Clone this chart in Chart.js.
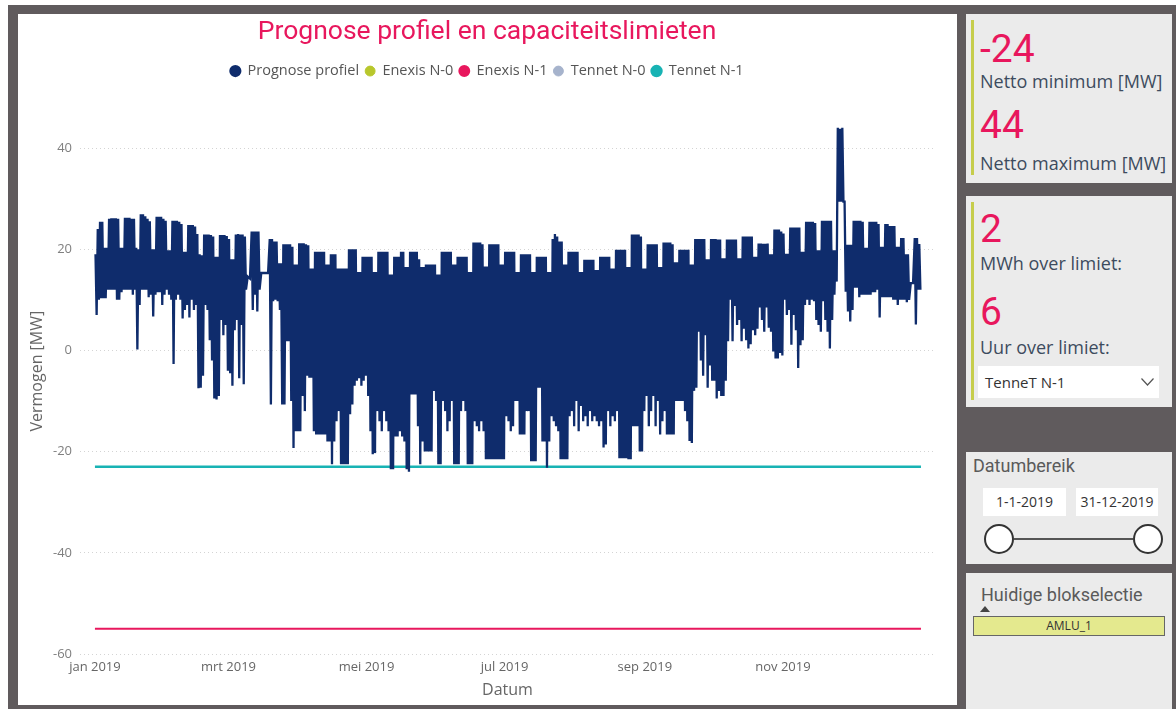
<!DOCTYPE html>
<html>
<head>
<meta charset="utf-8">
<script src="https://cdn.jsdelivr.net/npm/chart.js@4.4.1/dist/chart.umd.min.js"></script>
<style>
html,body{margin:0;padding:0;background:#fff;width:1176px;height:709px;overflow:hidden;font-family:'Open Sans',sans-serif;}
#frame{position:absolute;left:8px;top:5px;width:1168px;height:704px;background:#605b5d;}
#main{position:absolute;left:18px;top:14px;width:939px;height:691px;background:#fff;}
#main canvas{position:absolute;left:0;top:0;}
.panel{position:absolute;left:966px;width:206px;background:#ebebeb;}
.bar{position:absolute;left:5px;width:3px;background:#c6cd4c;}
.big{position:absolute;left:14px;font-family:'Roboto',sans-serif;font-size:39px;line-height:38px;color:#e8175d;}
.lbl{position:absolute;left:14px;font-family:'Open Sans',sans-serif;font-size:18px;line-height:20px;color:#3d4b5e;white-space:nowrap;}
.din{position:absolute;font-family:'Roboto',sans-serif;font-size:18px;line-height:20px;color:#5a5a5a;white-space:nowrap;}
.box{position:absolute;background:#fff;font-family:'Open Sans',sans-serif;font-size:14px;color:#333;text-align:center;}
</style>
</head>
<body>
<div id="frame"></div>
<div id="main"><canvas id="c" width="939" height="691"></canvas></div>

<div class="panel" style="top:14px;height:169px;">
  <div class="bar" style="top:6px;height:155px;"></div>
  <div class="big" style="top:16px;">-24</div>
  <div class="lbl" style="top:57px;">Netto minimum [MW]</div>
  <div class="big" style="top:92px;">44</div>
  <div class="lbl" style="top:139px;">Netto maximum [MW]</div>
</div>

<div class="panel" style="top:196px;height:211px;">
  <div class="bar" style="top:6px;height:198px;"></div>
  <div class="big" style="top:14px;">2</div>
  <div class="lbl" style="top:57px;">MWh over limiet:</div>
  <div class="big" style="top:97px;">6</div>
  <div class="lbl" style="top:141px;">Uur over limiet:</div>
  <div class="box" style="left:12px;top:170px;width:181px;height:32px;text-align:left;">
    <span style="position:absolute;left:7px;top:6px;font-size:15px;color:#333;">TenneT N-1</span>
    <svg style="position:absolute;left:163px;top:12px;" width="13" height="8" viewBox="0 0 13 8"><polyline points="0.5,0.5 6.5,7 12.5,0.5" fill="none" stroke="#555" stroke-width="1.2"/></svg>
  </div>
</div>

<div class="panel" style="top:452px;height:112px;">
  <div class="din" style="left:7px;top:4px;">Datumbereik</div>
  <div class="box" style="left:17px;top:36px;width:83px;height:28px;line-height:28px;">1-1-2019</div>
  <div class="box" style="left:110px;top:36px;width:82px;height:28px;line-height:28px;">31-12-2019</div>
  <svg style="position:absolute;left:0;top:70px;" width="206" height="36">
    <line x1="48" y1="17" x2="167" y2="17" stroke="#555" stroke-width="2"/>
    <circle cx="33" cy="17" r="14" fill="#fff" stroke="#333" stroke-width="2"/>
    <circle cx="182" cy="17" r="14" fill="#fff" stroke="#333" stroke-width="2"/>
  </svg>
</div>

<div class="panel" style="top:573px;height:136px;">
  <div class="din" style="left:15px;top:12px;">Huidige blokselectie</div>
  <svg style="position:absolute;left:14px;top:33px;" width="10" height="6"><polygon points="0,6 5,0 10,6" fill="#444"/></svg>
  <div style="position:absolute;left:7px;top:43px;width:190px;height:18px;background:#e4e98e;border:1px solid #666;font-family:'Open Sans',sans-serif;font-size:12px;line-height:18px;text-align:center;color:#333;">AMLU_1</div>
</div>

<script>
// ---- Data (day index 0 = 1 Jan 2019, rows of 7 days starting Tuesday) ----
const dailyMax = [
  19, 24, 25.4, 25.4, 20.3, 20.3, 26,
  26.1, 26.1, 26.1, 26, 20.3, 20.3, 26.2,
  26.2, 26.2, 26, 26, 20.3, 20, 26.9,
  26.9, 26.5, 26, 25.5, 20, 20, 26.4,
  26.4, 26.4, 26, 25.6, 19.8, 19.8, 25.6,
  25.6, 25.6, 25.4, 25, 19.5, 19.5, 24.8,
  24.8, 24.8, 24.5, 23, 19, 18.8, 22.9,
  22.9, 22.9, 22.8, 22.5, 18.5, 18.5, 22.8,
  22.8, 22.8, 22.6, 22, 18, 18, 22.9,
  23, 22.9, 22.9, 22.5, 14.6, 14.2, 23.5,
  23.5, 23.5, 23.5, 15.3, 15.3, 15.3, 15.3,
  22, 22, 21.5, 21.5, 17.2, 17.2, 21,
  21, 21, 21, 20.5, 17, 17, 21.2,
  21.2, 21.2, 21, 20.8, 16.2, 16.2, 19.5,
  19.5, 19.5, 19.5, 19.5, 17, 17, 19,
  19, 19, 16.2, 16.2, 16.2, 16.2, 16.2,
  20, 20, 20, 20, 15.5, 15.5, 18.5,
  18.5, 18.5, 18.5, 18.5, 15.5, 15.5, 19.5,
  19.5, 19.5, 19.5, 19.5, 15, 15, 18.5,
  18.5, 18.5, 19.5, 19.5, 16.5, 16.5, 19.5,
  19.5, 19.5, 19.5, 18, 16.5, 16.5, 17,
  17, 17, 17, 17, 15, 15, 19.5,
  19.5, 19.5, 19.5, 19.5, 17, 17, 18.5,
  18.5, 18.5, 18.5, 18.5, 15.5, 15.5, 21.3,
  21.3, 21.3, 21.3, 21, 16.6, 16.6, 21,
  21, 21, 21, 21, 17, 17, 19.5,
  19.5, 19.5, 19.5, 19.5, 15.5, 15.5, 19,
  19, 19, 19, 19, 15.5, 15.5, 18.5,
  18.5, 18.5, 18.5, 18.5, 15.5, 15.5, 22,
  23, 22.5, 21.5, 21.5, 17, 17, 19.5,
  19.5, 19.5, 19.5, 19.5, 15.5, 15.5, 17.9,
  17.9, 17.9, 17.9, 17.9, 15.9, 15.9, 18.5,
  18.5, 18.5, 18.5, 18.5, 16.2, 16.2, 19.9,
  19.9, 19.9, 19.9, 19.9, 16.5, 16.5, 22.9,
  22.9, 22.9, 22.9, 22.5, 16.2, 16.2, 21,
  21, 21, 21, 21, 16.5, 16.5, 21.3,
  21.3, 21.3, 21.3, 21, 17.4, 17.4, 19.9,
  19.9, 19.9, 19.9, 19.9, 17, 17, 22,
  22, 22, 22, 22, 18, 18, 22,
  22, 22, 21.9, 21.9, 18.2, 18.2, 21.9,
  21.9, 21.9, 21.9, 21.9, 18.2, 18.2, 22.5,
  22.5, 22.5, 22.5, 22.5, 18.5, 18.5, 21.1,
  21.1, 21.1, 21.1, 21.1, 19, 19, 23.9,
  23.9, 23.9, 23.5, 23.1, 19.1, 19.1, 24.3,
  24.3, 24.3, 24.3, 24.3, 19.5, 19.5, 25.4,
  25.4, 25.4, 25.4, 25.2, 19.8, 19.8, 25.6,
  25.6, 25.6, 25.6, 25.6, 19.8, 19.8, 44,
  43.8, 44, 29.4, 20.9, 20.9, 20.9, 25.6,
  25.6, 25.6, 25.6, 25.4, 20.3, 20.3, 25.4,
  25.4, 25.4, 25.4, 25, 20.5, 20.5, 25,
  25, 24.6, 24.6, 24.6, 20.5, 20.5, 22.2,
  22.2, 19, 19, 13.3, 13.3, 22.2, 22.2,
  21
];
const dailyMin = [
  7, 10, 10.3, 10.3, 10.3, 12, 12,
  12, 12, 10, 10, 11.5, 12, 12,
  12, 12, 11, 12, 0.2, 9, 12,
  12, 12, 10.5, 11, 6.7, 11, 11.5,
  11.5, 9, 11, 12, 11, 10, -2.7,
  10, 11, 10, 6.3, 8, 9, 6.5,
  10, 8, 9, -7.5, -7.4, -5, 9,
  8, 2, -2, -9.5, -9.7, -9, 6,
  3, 5, -4, -4.5, -7, 4, 6,
  -5.5, 5, -6.7, 12, 14.6, 14.2, 8,
  11, 7.7, 12, 15.3, 15.3, 15.3, 15.3,
  -10.7, 9.7, 10, 9.7, 8, -10.7, -10.7,
  1.8, 1.8, -10, -19.3, -16, -16, -16,
  -9, -12, -5, -5.4, -5.4, -16, -16.6,
  -16.6, -16.6, -16.6, -16.6, -18, -18, -22.5,
  -18, -14, -12, -22.5, -22.5, -22.5, -22.5,
  -12.6, -10.7, -7, -6, -5.5, -7, -6,
  -5, -9, -16, -20.5, -20.3, -12, -14,
  -16, -12, -14, -16, -23.5, -23.5, -17,
  -17, -16, -17, -18, -23.5, -24, -8.7,
  -8.7, -8.7, -15, -22.5, -18, -20, -20,
  -20, -20, -8, -10, -22.5, -22.5, -10,
  -12, -16, -14, -10, -22.5, -22.5, -22.5,
  -12, -10, -12, -22.5, -22.5, -22.5, -14,
  -15, -16, -14, -16, -21.5, -21.5, -21.5,
  -21.5, -21.5, -21.5, -21.5, -21.5, -21.5, -13,
  -14, -16, -15, -10, -10, -16.6, -16.6,
  -16.6, -12, -12, -21.9, -21.9, -21.9, -7.4,
  -7.4, -18, -18, -23.2, -18, -13, -14,
  -15, -16, -21.5, -21.5, -21.5, -21.5, -13,
  -12, -15, -10, -16, -11, -14, -13,
  -15, -12, -14, -13, -14, -15, -14,
  -19.2, -18.6, -12, -15, -13, -14, -12,
  -21.3, -21.3, -21.3, -21.3, -21.5, -21.5, -15,
  -15, -15, -20, -20, -12, -9, -15,
  -12, -9, -15, -10, -16.6, -14, -12,
  -16.6, -16.6, -16.6, -16.6, -10, -10, -10,
  -10, -12, -14, -17.9, -18.3, -8, -7.4,
  3.7, -2, -5, 3, -7.4, -3, -6,
  -6, -9.5, -8, -9, -9, -6, 1.8,
  10, 1.8, 8.8, 5, 6, 1.8, 4.3,
  2, 0.4, 1.2, 4, 3, 4.3, 8.5,
  6, 3.7, 8.5, 4.5, 3.7, -0.2, -1.6,
  -1.6, -0.5, -1, 10, 7, 8, 1.1,
  7, 4, -3.5, 1, 2, 9, 10,
  9, 10, 9.7, 6, 5, 3.7, 9.7,
  6, 3.7, 0.4, 6, 11, 13.6, 29.4,
  29.4, 29.4, 11.6, 7.7, 5.7, 8, 12.4,
  12.4, 10.5, 11, 11, 11, 11, 11,
  11.5, 11.5, 12, 6.5, 10.5, 10.5, 10.5,
  10.5, 10.5, 10, 10, 9, 10, 10,
  10, 9.5, 10, 13.3, 13.3, 5.1, 12,
  12
];
const limitDays = [0, 365];
const enexisN1 = [-55, -55];
const tennetN1 = [-23, -23];
const yTicks = [-60, -40, -20, 0, 20, 40];
const monthStarts = [0, 59, 120, 181, 243, 304];
const monthLabels = ['jan 2019', 'mrt 2019', 'mei 2019', 'jul 2019', 'sep 2019', 'nov 2019'];

// ---- build points ----
const profilePoints = [];
dailyMax.forEach((mx, d) => {
  const mn = dailyMin[d];
  if (mx === mn) { profilePoints.push({x: d + 0.5, y: mx}); }
  else { profilePoints.push({x: d + 0.25, y: mx}); profilePoints.push({x: d + 0.75, y: mn}); }
});
const limitPts = arr => limitDays.map((x, i) => ({x, y: arr[i]}));

const NAVY = '#0f2c6c';
const axisFont = "'Open Sans', sans-serif";
const dinFont = "'Roboto', sans-serif";

new Chart(document.getElementById('c'), {
  type: 'line',
  data: {
    datasets: [
      {label: 'Prognose profiel', data: profilePoints, borderColor: NAVY, backgroundColor: NAVY, borderWidth: 2.3, borderJoinStyle: 'miter'},
      {label: 'Enexis N-0', data: [], borderColor: '#b8c72c', backgroundColor: '#b8c72c', borderWidth: 1},
      {label: 'Enexis N-1', data: limitPts(enexisN1), borderColor: '#e8175d', backgroundColor: '#e8175d', borderWidth: 2},
      {label: 'Tennet N-0', data: [], borderColor: '#a6b3cc', backgroundColor: '#a6b3cc', borderWidth: 1},
      {label: 'Tennet N-1', data: limitPts(tennetN1), borderColor: '#18b3b4', backgroundColor: '#18b3b4', borderWidth: 2.5}
    ]
  },
  options: {
    responsive: false,
    animation: false,
    parsing: false,
    normalized: true,
    elements: {point: {radius: 0, hoverRadius: 0}, line: {tension: 0}},
    layout: {padding: {left: 21, right: 22, top: 0, bottom: 0}},
    scales: {
      x: {
        type: 'linear', min: -6.6, max: 371.2,
        afterBuildTicks: s => { s.ticks = monthStarts.map(v => ({value: v})); },
        afterFit: s => { s.height = 51; },
        ticks: {callback: (v, i) => monthLabels[i], color: '#666', font: {size: 13, family: axisFont}, padding: 5, maxRotation: 0, autoSkip: false},
        grid: {display: false, drawTicks: false},
        border: {display: false},
        title: {display: true, text: 'Datum', color: '#666', font: {size: 16, family: axisFont}, padding: {top: 0, bottom: 5}}
      },
      y: {
        type: 'linear', min: -60, max: 51.8,
        afterBuildTicks: s => { s.ticks = yTicks.map(v => ({value: v})); },
        afterFit: s => { s.width = 41; },
        ticks: {color: '#808080', font: {size: 13, family: axisFont}, padding: 8},
        grid: {color: '#d4d4d4', drawTicks: false, lineWidth: 1},
        border: {display: false, dash: [1, 3]},
        title: {display: true, text: 'Vermogen [MW]', color: '#666', font: {size: 16, family: axisFont}, padding: {top: -11, bottom: 0}}
      }
    },
    plugins: {
      title: {display: true, text: 'Prognose profiel en capaciteitslimieten', color: '#e8175d', font: {size: 26.5, family: dinFont, weight: 'normal'}, padding: {top: 2, bottom: 10}},
      legend: {position: 'top', labels: {usePointStyle: true, pointStyle: 'circle', boxWidth: 10, boxHeight: 7, padding: 6, color: '#555', font: {size: 14.5, family: axisFont}}},
      tooltip: {enabled: false}
    }
  }
});
</script>
</body>
</html>
